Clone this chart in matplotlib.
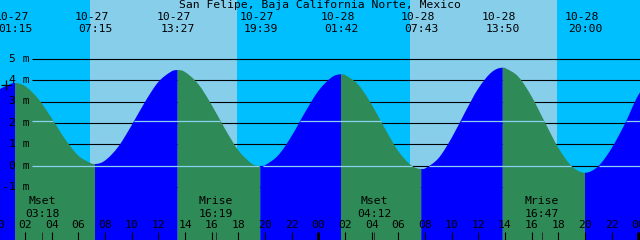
import matplotlib
matplotlib.use("Agg")
import matplotlib.pyplot as plt
from matplotlib.patches import Polygon, PathPatch
from matplotlib.path import Path

# ---------------- data ----------------
title = "San Felipe, Baja California Norte, Mexico"

extreme_dates = ["10-27", "10-27", "10-27", "10-27", "10-28", "10-28", "10-28", "10-28"]
extreme_times = ["01:15", "07:15", "13:27", "19:39", "01:42", "07:43", "13:50", "20:00"]
extreme_heights = [3.86, 0.08, 4.47, -0.02, 4.27, -0.15, 4.58, -0.33]
extreme_kind = ["high", "low", "high", "low", "high", "low", "high", "low"]

# tide height (m) read at each whole hour, hour 0 = 10-27 00:00
hourly_hours = list(range(0, 50))
hourly_heights = [3.55, 3.84, 3.72, 3.12, 2.22, 1.25, 0.47, 0.10, 0.24, 0.89,
                  1.89, 2.98, 3.91, 4.41, 4.38, 3.81, 2.84, 1.72, 0.72, 0.10,
                  0.02, 0.49, 1.39, 2.49, 3.49, 4.13, 4.24, 3.78, 2.86, 1.73,
                  0.68, 0.00, -0.13, 0.34, 1.30, 2.49, 3.61, 4.37, 4.57, 4.16,
                  3.23, 2.02, 0.84, -0.02, -0.33, -0.02, 0.82, 1.97, 3.30, 4.10]

moon_labels = ["Mset", "Mrise", "Mset", "Mrise"]
moon_times = ["03:18", "16:19", "04:12", "16:47"]
moon_days = [0, 0, 1, 1]

sunrise_hours = [6.875, 30.875]
sunset_hours = [17.875, 41.875]

level_values = [-1, 0, 1, 2, 3, 4, 5]
level_labels = ["-1 m", "0 m", "1 m", "2 m", "3 m", "4 m", "5 m"]
mean_sea_level = 2.10

tick_hours = list(range(0, 49, 2))
tick_labels = ["%02d" % (h % 24) for h in tick_hours]

now_hour = 0.54
now_height = 3.77

# ---------------- styling ----------------
NIGHT = "#00BFFF"
DAY = "#87CEEB"
FALL = "#2E8B57"
RISE = "#0000FF"
DATUM = "#8CD2F0"
FONT = "DejaVu Sans Mono"
FS = 8.2

W, H = 640, 240
PX_PER_M = 21.4
Y_TOP = 165.7 / PX_PER_M
Y_BOT = Y_TOP - H / PX_PER_M
X0 = 0.125
X1 = X0 + 48.0
GRID_X0 = X0 + 31.7 / W * 48.0


def py(ypix):
    return Y_TOP - ypix / PX_PER_M


def to_hours(hhmm, day):
    hh, mm = hhmm.split(":")
    return day * 24 + int(hh) + int(mm) / 60.0


fig = plt.figure(figsize=(W / 100, H / 100), dpi=100)
ax = fig.add_axes([0, 0, 1, 1])
ax.set_xlim(X0, X1)
ax.set_ylim(Y_BOT, Y_TOP)
ax.axis("off")

# sky
ax.add_patch(Polygon([(X0 - 1, Y_BOT - 1), (X1 + 1, Y_BOT - 1), (X1 + 1, Y_TOP + 1),
                      (X0 - 1, Y_TOP + 1)], closed=True, facecolor=NIGHT, lw=0, zorder=0))
for a, b in zip(sunrise_hours, sunset_hours):
    ax.add_patch(Polygon([(a, Y_BOT - 1), (b, Y_BOT - 1), (b, Y_TOP + 1), (a, Y_TOP + 1)],
                         closed=True, facecolor=DAY, lw=0, zorder=0.5))

# grid lines (black, later covered by water)
ax.hlines(level_values, GRID_X0, X1 + 1, colors="black", lw=0.8, zorder=1)

# combine curve points
ext_hours = [to_hours(t, 0 if d == "10-27" else 1) for t, d in zip(extreme_times, extreme_dates)]
pts = dict(zip(hourly_hours, hourly_heights))
for eh, ev in zip(ext_hours, extreme_heights):
    pts[eh] = ev
t_all = sorted(pts)
h_all = [pts[t] for t in t_all]

# slopes for a smooth (cubic Hermite) rendering of the curve; zero at extremes
slopes = []
for i, t in enumerate(t_all):
    if t in ext_hours:
        slopes.append(0.0)
    elif i == 0:
        slopes.append((h_all[1] - h_all[0]) / (t_all[1] - t_all[0]))
    elif i == len(t_all) - 1:
        slopes.append((h_all[i] - h_all[i - 1]) / (t_all[i] - t_all[i - 1]))
    else:
        slopes.append((h_all[i + 1] - h_all[i - 1]) / (t_all[i + 1] - t_all[i - 1]))


def curve_path(i0, i1, bottom):
    verts = [(t_all[i0], bottom), (t_all[i0], h_all[i0])]
    codes = [Path.MOVETO, Path.LINETO]
    for i in range(i0, i1):
        dt = t_all[i + 1] - t_all[i]
        verts += [(t_all[i] + dt / 3, h_all[i] + slopes[i] * dt / 3),
                  (t_all[i + 1] - dt / 3, h_all[i + 1] - slopes[i + 1] * dt / 3),
                  (t_all[i + 1], h_all[i + 1])]
        codes += [Path.CURVE4] * 3
    verts += [(t_all[i1], bottom), (t_all[i0], bottom)]
    codes += [Path.LINETO, Path.CLOSEPOLY]
    return Path(verts, codes)


# water: green while falling (high -> low), blue while rising
bounds = [t_all[0]] + ext_hours + [t_all[-1]]
start_kind = ["low"] + extreme_kind
for i in range(len(bounds) - 1):
    i0 = t_all.index(bounds[i])
    i1 = t_all.index(bounds[i + 1])
    col = FALL if start_kind[i] == "high" else RISE
    ax.add_patch(PathPatch(curve_path(i0, i1, Y_BOT - 1), facecolor=col,
                           edgecolor="none", lw=0, zorder=3))


# datum / msl lines drawn only where under water
def under_water_spans(level):
    spans = []
    start = None
    for i in range(len(t_all)):
        t, h = t_all[i], h_all[i]
        inside = h > level
        if i > 0:
            t0, h0 = t_all[i - 1], h_all[i - 1]
            was = h0 > level
            if inside != was:
                tc = t0 + (level - h0) / (h - h0) * (t - t0)
                if inside:
                    start = tc
                else:
                    spans.append((start, tc))
                    start = None
        elif inside:
            start = t
    if start is not None:
        spans.append((start, t_all[-1]))
    return spans


for lv in [0, mean_sea_level]:
    for a, b in under_water_spans(lv):
        a = max(a, GRID_X0)
        if b > a:
            ax.hlines(lv, a, b, colors=DATUM, lw=0.9, zorder=4)

# now marker
ax.plot([now_hour], [now_height], marker="+", ms=6.8, mew=0.9, color="black", zorder=6)

# y labels
ytr = ax.get_yaxis_transform()
for lv, lab in zip(level_values, level_labels):
    ax.text(29.8 / W, lv, lab, transform=ytr, ha="right", va="center",
            fontsize=FS, family=FONT, color="black", zorder=7)

# title
ax.text(0.5, py(5.5), title, transform=ytr, ha="center",
        va="center", fontsize=FS, family=FONT, zorder=7)

# extreme labels
for eh, d, t in zip(ext_hours, extreme_dates, extreme_times):
    ax.annotate(d, (eh, py(17.5)), xytext=(-2.6, 0), textcoords="offset points",
                ha="center", va="center", fontsize=FS, family=FONT, zorder=7)
    ax.text(eh, py(29.5), t, ha="center", va="center", fontsize=FS, family=FONT, zorder=7)

# moon labels and ticks
for lab, t, d in zip(moon_labels, moon_times, moon_days):
    mh = to_hours(t, d)
    ax.text(mh, py(201.5), lab, ha="center", va="center", fontsize=FS, family=FONT, zorder=7)
    ax.text(mh, py(214), t, ha="center", va="center", fontsize=FS, family=FONT, zorder=7)
    ax.vlines(mh, py(240.5), py(232), colors="#2a2a2a", lw=0.7, zorder=6)

# hour ticks
for th, lab in zip(tick_hours, tick_labels):
    lw = 2.2 if th % 24 == 0 else 0.8
    ax.vlines(th, py(240.5), py(232), colors="black", lw=lw, zorder=6)
    ax.text(th, py(225.5), lab, ha="center", va="center", fontsize=FS, family=FONT, zorder=7)

fig.savefig("out.png", dpi=100)
